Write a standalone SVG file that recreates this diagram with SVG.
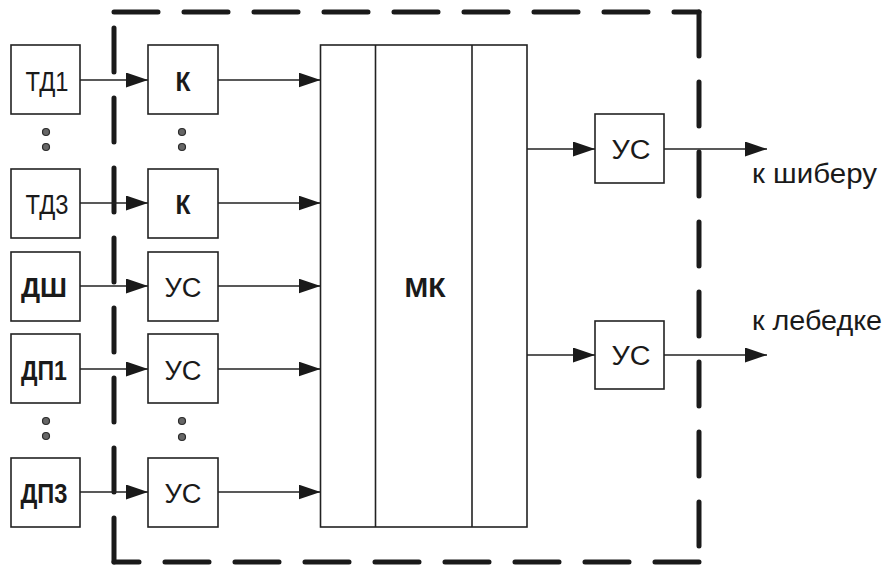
<svg xmlns="http://www.w3.org/2000/svg" width="889" height="566" viewBox="0 0 889 566">
<style>
.bx{fill:#fff;stroke:#222;stroke-width:1.6}
.ln{fill:none;stroke:#222;stroke-width:1.6}
.cn{fill:none;stroke:#222;stroke-width:1.6;marker-end:url(#ah)}
.db{fill:none;stroke:#1a1a1a;stroke-width:5;stroke-linecap:round;stroke-dasharray:44 26}
.t{font-family:"Liberation Sans",Arial,sans-serif;font-size:27px;fill:#1a1a1a;text-anchor:middle}
.b{font-weight:bold}
.dot{fill:#666;stroke:#2a2a2a;stroke-width:1.2}
</style>
<defs>
<marker id="ah" markerUnits="userSpaceOnUse" markerWidth="22" markerHeight="15" refX="22" refY="7.5" orient="auto">
<path d="M0,0 L22,7.5 L0,15 Z" fill="#1a1a1a"/>
</marker>
</defs>
<g id="border">
<line class="db" x1="114" y1="12" x2="699" y2="12"/>
<line class="db" x1="699" y1="12" x2="699" y2="562"/>
<line class="db" x1="699" y1="562" x2="114" y2="562"/>
<line class="db" x1="114" y1="562" x2="114" y2="12"/>
</g>
<g id="connectors">
<line class="cn" x1="80" y1="80" x2="148" y2="80"/>
<line class="cn" x1="218" y1="80" x2="320.5" y2="80"/>
<line class="cn" x1="80" y1="203" x2="148" y2="203"/>
<line class="cn" x1="218" y1="203" x2="320.5" y2="203"/>
<line class="cn" x1="80" y1="286" x2="148" y2="286"/>
<line class="cn" x1="218" y1="286" x2="320.5" y2="286"/>
<line class="cn" x1="80" y1="369" x2="148" y2="369"/>
<line class="cn" x1="218" y1="369" x2="320.5" y2="369"/>
<line class="cn" x1="80" y1="492" x2="148" y2="492"/>
<line class="cn" x1="218" y1="492" x2="320.5" y2="492"/>
<line class="cn" x1="527" y1="149" x2="595" y2="149"/>
<line class="cn" x1="664" y1="149" x2="767" y2="149"/>
<line class="cn" x1="527" y1="355" x2="595" y2="355"/>
<line class="cn" x1="664" y1="355" x2="767" y2="355"/>
</g>
<g id="td1"><rect class="bx" x="11" y="45" width="69" height="69"/><text class="t" x="47" y="90.5" textLength="43" lengthAdjust="spacingAndGlyphs">ТД1</text></g>
<g id="td3"><rect class="bx" x="11" y="169" width="69" height="69"/><text class="t" x="47" y="213.5" textLength="43" lengthAdjust="spacingAndGlyphs">ТД3</text></g>
<g id="dsh"><rect class="bx" x="11" y="252" width="69" height="69"/><text class="t b" x="44" y="296.5" textLength="46" lengthAdjust="spacingAndGlyphs">ДШ</text></g>
<g id="dp1"><rect class="bx" x="11" y="334" width="69" height="69"/><text class="t b" x="44" y="379.5" textLength="46" lengthAdjust="spacingAndGlyphs">ДП1</text></g>
<g id="dp3"><rect class="bx" x="11" y="458" width="69" height="69"/><text class="t b" x="44" y="502.5" textLength="47" lengthAdjust="spacingAndGlyphs">ДП3</text></g>
<g id="k1"><rect class="bx" x="148" y="45" width="70" height="69"/><text class="t b" x="183" y="90.5" textLength="15" lengthAdjust="spacingAndGlyphs">К</text></g>
<g id="k3"><rect class="bx" x="148" y="169" width="70" height="69"/><text class="t b" x="183" y="213.5" textLength="15" lengthAdjust="spacingAndGlyphs">К</text></g>
<g id="us1"><rect class="bx" x="148" y="252" width="70" height="69"/><text class="t" x="183" y="296.5" textLength="37" lengthAdjust="spacingAndGlyphs">УС</text></g>
<g id="us2"><rect class="bx" x="148" y="334" width="70" height="69"/><text class="t" x="183" y="379.5" textLength="37" lengthAdjust="spacingAndGlyphs">УС</text></g>
<g id="us3"><rect class="bx" x="148" y="458" width="70" height="69"/><text class="t" x="183" y="502.5" textLength="37" lengthAdjust="spacingAndGlyphs">УС</text></g>
<g id="mk">
<rect class="bx" x="320.5" y="45" width="206.5" height="482"/>
<line class="ln" x1="375.5" y1="45" x2="375.5" y2="527"/>
<line class="ln" x1="472" y1="45" x2="472" y2="527"/>
<text class="t b" x="425" y="296.5" font-size="29" textLength="41" lengthAdjust="spacingAndGlyphs">МК</text>
</g>
<g id="us_out1"><rect class="bx" x="595" y="114" width="69" height="69"/><text class="t" x="631" y="158.5" textLength="39" lengthAdjust="spacingAndGlyphs">УС</text></g>
<g id="us_out2"><rect class="bx" x="595" y="321" width="69" height="68"/><text class="t" x="631" y="364.5" textLength="39" lengthAdjust="spacingAndGlyphs">УС</text></g>
<g id="labels">
<text class="t" x="752" y="183" text-anchor="start" style="text-anchor:start" textLength="125" lengthAdjust="spacingAndGlyphs">к шиберу</text>
<text class="t" x="752" y="330" style="text-anchor:start" textLength="130" lengthAdjust="spacingAndGlyphs">к лебедке</text>
</g>
<g id="dots">
<circle class="dot" cx="46" cy="132" r="3.5"/>
<circle class="dot" cx="46" cy="147" r="3.5"/>
<circle class="dot" cx="182" cy="132" r="3.5"/>
<circle class="dot" cx="182" cy="147" r="3.5"/>
<circle class="dot" cx="46" cy="421" r="3.5"/>
<circle class="dot" cx="46" cy="436" r="3.5"/>
<circle class="dot" cx="182" cy="421" r="3.5"/>
<circle class="dot" cx="182" cy="437" r="3.5"/>
</g>
</svg>
